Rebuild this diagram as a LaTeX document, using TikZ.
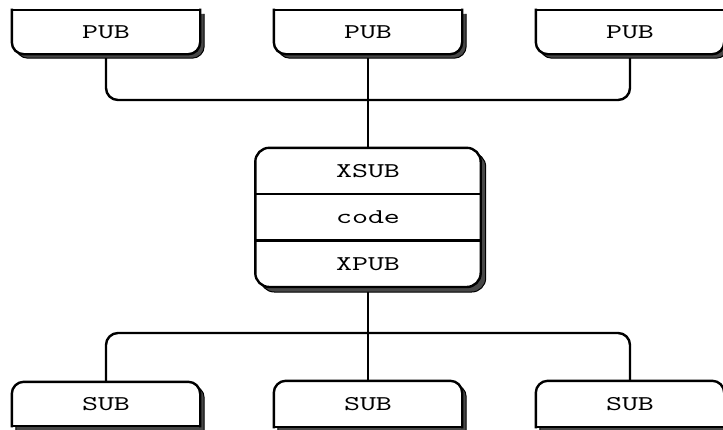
\documentclass[tikz,border=0pt]{standalone}
\usepackage{fontspec}
\newfontfamily\boxfont{lmmono10-regular.otf}[FakeStretch=1.45]
\usetikzlibrary{positioning}
\tikzset{
  box/.style={minimum width=188pt, minimum height=44pt, inner sep=0pt, font=\boxfont\fontsize{21}{21}\selectfont},
  row/.style={minimum width=225pt, minimum height=46pt, inner sep=0pt, font=\boxfont\fontsize{21}{21}\selectfont},
  edge line/.style={line width=2.4pt, line cap=rect, rounded corners=12pt},
  wire/.style={line width=2.4pt, rounded corners=12pt},
  shade/.style={fill=black!72, draw=black, line width=1pt, rounded corners=12pt}
}

\begin{document}
\begin{tikzpicture}[x=1pt, y=-1pt]
\useasboundingbox (0,0) rectangle (723,429);

% publishers and subscribers
\node[box] (pub1) at (106,32) {PUB};
\node[box] (pub2) at (368,32) {PUB};
\node[box] (pub3) at (630,32) {PUB};
\node[box] (sub1) at (106,404) {SUB};
\node[box, minimum height=46pt] (sub2) at (368,404) {SUB};
\node[box, minimum height=46pt] (sub3) at (630,404) {SUB};

% the proxy in the middle
\node[row] (xsub) at (368,171) {XSUB};
\node[row, below=0pt of xsub] (code) {code};
\node[row, below=0pt of code] (xpub) {XPUB};

\coordinate (tbus) at (368,100);
\coordinate (bbus) at (368,333);

% wires
\draw[wire] (pub1.south) -- (pub1.south |- tbus) -- (pub3.south |- tbus) -- (pub3.south);
\draw[wire] (pub2.south) -- (xsub.north);
\draw[wire] (sub1.north) -- (sub1.north |- bbus) -- (sub3.north |- bbus) -- (sub3.north);
\draw[wire] (xpub.south) -- (sub2.north);

% boxes, open at the picture edge
\foreach \n in {pub1,pub2,pub3} {
  \fill[shade] ([shift={(4,4)}]\n.north west) -- ([shift={(4,4)}]\n.south west) -- ([shift={(4,4)}]\n.south east) -- ([shift={(4,4)}]\n.north east);
  \draw[edge line, fill=white] (\n.north west) -- (\n.south west) -- (\n.south east) -- (\n.north east);
  \draw[edge line] (\n.north west) -- (\n.north east);
  \node[box] at (\n) {PUB};
}
\foreach \n in {sub1,sub2,sub3} {
  \fill[shade] ([shift={(4,4)}]\n.south west) -- ([shift={(4,4)}]\n.north west) -- ([shift={(4,4)}]\n.north east) -- ([shift={(4,4)}]\n.south east);
  \draw[edge line, fill=white] (\n.south west) -- (\n.north west) -- (\n.north east) -- (\n.south east);
  \draw[edge line] (\n.south west) -- (\n.south east);
  \node[box] at (\n) {SUB};
}

\fill[shade, rounded corners=14pt] ([shift={(5,5)}]xsub.north west) rectangle ([shift={(5,5)}]xpub.south east);
\draw[edge line, fill=white, rounded corners=14pt] (xsub.north west) rectangle (xpub.south east);
\draw[line width=2.4pt] (xsub.south west) -- (xsub.south east);
\draw[line width=2.4pt] (code.south west) -- (code.south east);
\node[row] at (xsub) {XSUB};
\node[row] at (code) {code};
\node[row] at (xpub) {XPUB};
\end{tikzpicture}
\end{document}
